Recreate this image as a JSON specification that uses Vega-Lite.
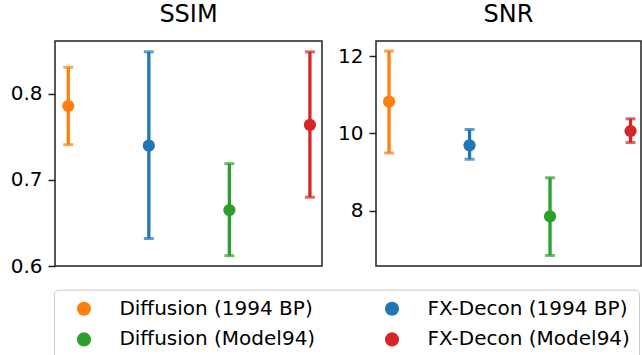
{
  "$schema": "https://vega.github.io/schema/vega-lite/v6.json",
  "padding": {"left": 9, "top": 2, "right": 0, "bottom": 0},
  "background": "white",
  "datasets": {
    "ssim": [
      {"method": "Diffusion (1994 BP)", "pos": 0, "mean": 0.786, "lo": 0.741, "hi": 0.831},
      {"method": "FX-Decon (1994 BP)", "pos": 1, "mean": 0.740, "lo": 0.632, "hi": 0.849},
      {"method": "Diffusion (Model94)", "pos": 2, "mean": 0.665, "lo": 0.612, "hi": 0.719},
      {"method": "FX-Decon (Model94)", "pos": 3, "mean": 0.764, "lo": 0.680, "hi": 0.849}
    ],
    "snr": [
      {"method": "Diffusion (1994 BP)", "pos": 0, "mean": 10.82, "lo": 9.49, "hi": 12.13},
      {"method": "FX-Decon (1994 BP)", "pos": 1, "mean": 9.69, "lo": 9.33, "hi": 10.10},
      {"method": "Diffusion (Model94)", "pos": 2, "mean": 7.85, "lo": 6.84, "hi": 8.85},
      {"method": "FX-Decon (Model94)", "pos": 3, "mean": 10.06, "lo": 9.76, "hi": 10.38}
    ]
  },
  "spacing": 54,
  "bounds": "flush",
  "hconcat": [
    {
      "width": 267,
      "height": 225,
      "title": {"text": "SSIM"},
      "data": {"name": "ssim"},
      "encoding": {
        "x": {"field": "pos", "type": "quantitative", "scale": {"domain": [-0.165, 3.15], "nice": false, "zero": false}, "axis": null},
        "color": {"field": "method", "type": "nominal", "scale": {"domain": ["Diffusion (1994 BP)", "Diffusion (Model94)", "FX-Decon (1994 BP)", "FX-Decon (Model94)"], "range": ["#ff7f0e", "#2ca02c", "#1f77b4", "#d62728"]}, "legend": {"encode": {"symbols": {"update": {"fill": {"scale": "color", "field": "value"}, "stroke": {"value": "transparent"}, "shape": {"value": "circle"}, "opacity": {"value": 1}}}}}}
      },
      "layer": [
        {
          "mark": {"type": "rule", "strokeWidth": 3.3},
          "encoding": {
            "y": {"field": "lo", "type": "quantitative", "scale": {"domain": [0.6, 0.8616], "nice": false, "zero": false}, "axis": {"values": [0.6, 0.7, 0.8], "format": ".1f", "title": null}},
            "y2": {"field": "hi"}
          }
        },
        {
          "mark": {"type": "tick", "orient": "horizontal", "size": 10, "thickness": 3},
          "encoding": {"y": {"field": "hi", "type": "quantitative"}}
        },
        {
          "mark": {"type": "tick", "orient": "horizontal", "size": 10, "thickness": 3},
          "encoding": {"y": {"field": "lo", "type": "quantitative"}}
        },
        {
          "mark": {"type": "point", "filled": true, "size": 150, "opacity": 1},
          "encoding": {"y": {"field": "mean", "type": "quantitative"}}
        }
      ]
    },
    {
      "width": 265,
      "height": 225,
      "title": {"text": "SNR"},
      "data": {"name": "snr"},
      "encoding": {
        "x": {"field": "pos", "type": "quantitative", "scale": {"domain": [-0.162, 3.13], "nice": false, "zero": false}, "axis": null},
        "color": {"field": "method", "type": "nominal", "scale": {"domain": ["Diffusion (1994 BP)", "Diffusion (Model94)", "FX-Decon (1994 BP)", "FX-Decon (Model94)"], "range": ["#ff7f0e", "#2ca02c", "#1f77b4", "#d62728"]}, "legend": {"encode": {"symbols": {"update": {"fill": {"scale": "color", "field": "value"}, "stroke": {"value": "transparent"}, "shape": {"value": "circle"}, "opacity": {"value": 1}}}}}}
      },
      "layer": [
        {
          "mark": {"type": "rule", "strokeWidth": 3.3},
          "encoding": {
            "y": {"field": "lo", "type": "quantitative", "scale": {"domain": [6.567, 12.39], "nice": false, "zero": false}, "axis": {"values": [8, 10, 12], "format": "d", "title": null}},
            "y2": {"field": "hi"}
          }
        },
        {
          "mark": {"type": "tick", "orient": "horizontal", "size": 10, "thickness": 3},
          "encoding": {"y": {"field": "hi", "type": "quantitative"}}
        },
        {
          "mark": {"type": "tick", "orient": "horizontal", "size": 10, "thickness": 3},
          "encoding": {"y": {"field": "lo", "type": "quantitative"}}
        },
        {
          "mark": {"type": "point", "filled": true, "size": 150, "opacity": 1},
          "encoding": {"y": {"field": "mean", "type": "quantitative"}}
        }
      ]
    }
  ],
  "config": {
    "font": "DejaVu Sans",
    "view": {"stroke": "#222222", "strokeWidth": 1.5},
    "title": {"fontSize": 24, "fontWeight": "normal", "color": "#000000", "font": "DejaVu Sans", "baseline": "alphabetic", "offset": 14, "anchor": "middle"},
    "axisY": {"title": null, "grid": false, "domain": false, "labelFontSize": 20, "labelFont": "DejaVu Sans", "labelColor": "#000000", "tickColor": "#222222", "tickWidth": 1.5, "tickSize": 7, "labelPadding": 6},
    "legend": {
      "orient": "none", "legendX": -1, "legendY": 248.7, "columns": 2, "title": null,
      "symbolType": "circle", "symbolSize": 200, "symbolStrokeWidth": 0, "symbolOpacity": 1,
      "labelFontSize": 20, "labelFont": "DejaVu Sans", "labelColor": "#000000", "labelLimit": 0,
      "padding": 9, "symbolOffset": 11, "labelOffset": 25.4, "columnPadding": 55, "rowPadding": 10.7,
      "strokeColor": "#cccccc", "cornerRadius": 4, "fillColor": "white"
    }
  }
}
